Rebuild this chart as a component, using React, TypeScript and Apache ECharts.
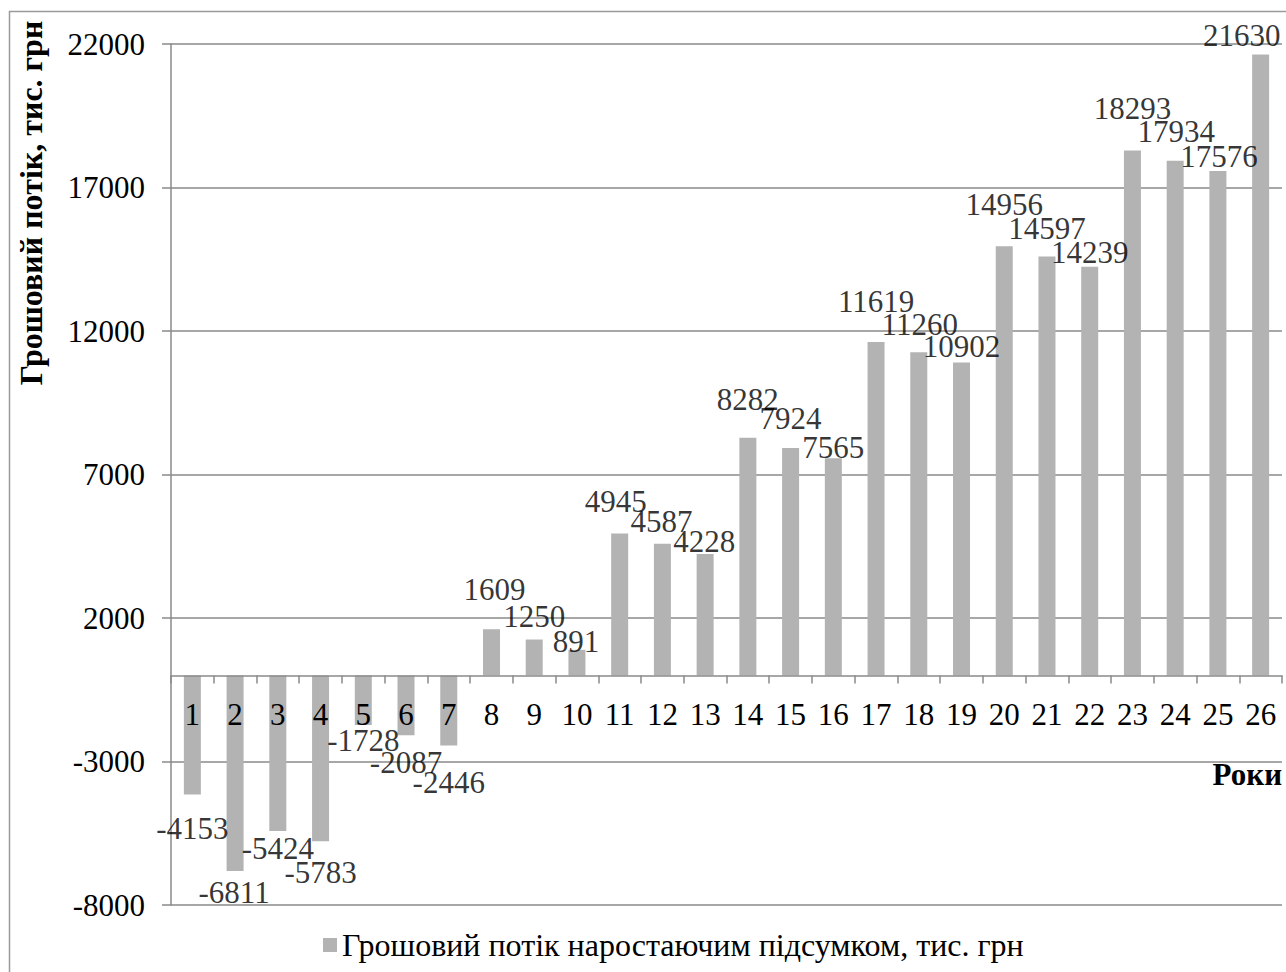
import React, { useEffect, useRef } from "react";
import * as echarts from "echarts";

// Роки проєкту
const years = ["1", "2", "3", "4", "5", "6", "7", "8", "9", "10", "11", "12", "13", "14", "15", "16", "17", "18", "19", "20", "21", "22", "23", "24", "25", "26"];

// Грошовий потік наростаючим підсумком, тис. грн
const cumulativeFlow = [-4153, -6811, -5424, -5783, -1728, -2087, -2446, 1609, 1250, 891, 4945, 4587, 4228, 8282, 7924, 7565, 11619, 11260, 10902, 14956, 14597, 14239, 18293, 17934, 17576, 21630];

// Value axis range and step
const yMin = -8000;
const yMax = 22000;
const yStep = 5000;

const seriesName = "Грошовий потік наростаючим підсумком, тис. грн";
const yAxisTitle = "Грошовий потік, тис. грн";
const xAxisTitle = "Роки";

// Hand-placed nudges [dx, dy] of each value label from the bar's end, in px
const labelNudge: [number, number][] = [
  [0, 34], [-1, 22], [0, 17], [0, 31], [0, 16], [0, 27], [0, 37],
  [3, -40], [0, -23], [-1, -8],
  [-4, -32], [-1, -22], [-1, -13],
  [0, -38], [0, -29], [0, -11],
  [0, -40], [1, -28], [0, -16],
  [0, -42], [0, -28], [0, -14],
  [0, -42], [1, -29], [1, -14],
  [-19, -19],
];

const FONT = "'Liberation Serif', 'Times New Roman', serif";
const AXIS_GRAY = "#8a8a8a";
const BAR_GRAY = "#b3b3b3";

const GRID_TOP = 44;
const GRID_HEIGHT = 861;
// The category axis sits on the zero line of the value axis
const zeroOffset = -((0 - yMin) / (yMax - yMin)) * GRID_HEIGHT;

export default function App() {
  const ref = useRef<HTMLDivElement>(null);

  useEffect(() => {
    if (!ref.current) return;
    const chart = echarts.init(ref.current, undefined, { renderer: "svg" });

    chart.setOption({
      animation: false,
      backgroundColor: "#ffffff",
      grid: { left: 171, top: GRID_TOP, width: 1111, height: GRID_HEIGHT, containLabel: false },
      legend: {
        data: [seriesName],
        left: 318,
        top: 924,
        icon: "rect",
        itemWidth: 14,
        itemHeight: 14,
        itemGap: 5,
        textStyle: { fontFamily: FONT, fontSize: 32, color: "#000" },
      },
      xAxis: {
        type: "category",
        data: years,
        boundaryGap: true,
        position: "bottom",
        offset: zeroOffset,
        z: 6,
        axisLine: { onZero: false, lineStyle: { color: AXIS_GRAY, width: 1.5 } },
        axisTick: { show: true, length: 8, alignWithLabel: false, lineStyle: { color: AXIS_GRAY, width: 1.5 } },
        axisLabel: { interval: 0, margin: 24, fontFamily: FONT, fontSize: 31, color: "#000", lineHeight: 31 },
        splitLine: { show: false },
      },
      yAxis: {
        type: "value",
        min: yMin,
        max: yMax,
        interval: yStep,
        axisLine: { show: true, lineStyle: { color: AXIS_GRAY, width: 1.5 } },
        axisTick: { show: true, length: 9, lineStyle: { color: AXIS_GRAY, width: 1.5 } },
        axisLabel: {
          margin: 26,
          fontFamily: FONT,
          fontSize: 31,
          color: "#000",
          formatter: (v: number) => String(v),
        },
        splitLine: { show: true, lineStyle: { color: AXIS_GRAY, width: 1.5 } },
      },
      series: [
        {
          name: seriesName,
          type: "bar",
          data: cumulativeFlow,
          barWidth: 17,
          itemStyle: { color: BAR_GRAY },
          label: { show: false },
        },
        {
          name: "labels",
          type: "scatter",
          data: cumulativeFlow,
          symbolSize: 1,
          itemStyle: { color: "rgba(0,0,0,0)" },
          silent: true,
          label: {
            show: true,
            position: "inside",
            formatter: (p: any) => String(p.value),
            fontFamily: FONT,
            fontSize: 31,
            color: "#000",
          },
          labelLayout: (p: any) => ({
            dx: labelNudge[p.dataIndex][0],
            dy: labelNudge[p.dataIndex][1],
            hideOverlap: false,
          }),
          z: 7,
        },
      ],
      graphic: [
        {
          type: "rect",
          shape: { x: 9.5, y: 11.5, width: 1400, height: 1200 },
          style: { fill: "none", stroke: "#9a9a9a", lineWidth: 1.5 },
          silent: true,
        },
        {
          type: "text",
          x: 31,
          y: 203,
          rotation: Math.PI / 2,
          style: {
            text: yAxisTitle,
            fontFamily: FONT,
            fontSize: 32,
            fontWeight: "bold",
            fill: "#000",
            align: "center",
            verticalAlign: "middle",
          },
        },
        {
          type: "text",
          x: 1282,
          y: 774,
          style: {
            text: xAxisTitle,
            fontFamily: FONT,
            fontSize: 31,
            fontWeight: "bold",
            fill: "#000",
            align: "right",
            verticalAlign: "middle",
          },
        },
      ],
    });

    return () => chart.dispose();
  }, []);

  return (
    <div
      ref={ref}
      style={{ position: "absolute", left: 0, top: 0, width: 1286, height: 972 }}
    />
  );
}
